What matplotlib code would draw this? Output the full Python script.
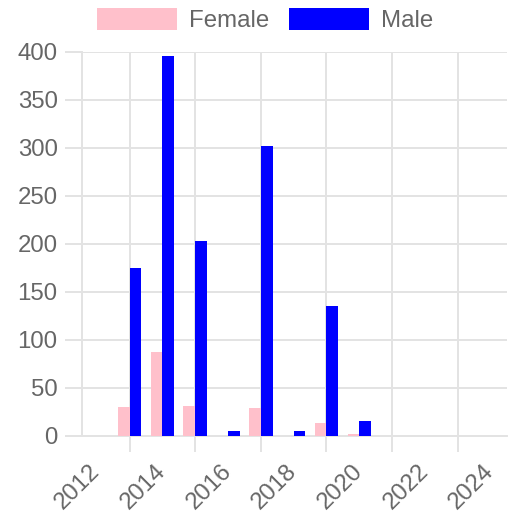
import numpy as np
import matplotlib.pyplot as plt
from matplotlib.ticker import MultipleLocator

plt.rcParams['font.family'] = ['Liberation Sans', 'DejaVu Sans']

# data
years = [2013, 2014, 2015, 2016, 2017, 2018, 2019, 2020]
female = [30, 88, 31, 0, 29, 0, 14, 2]
male = [175, 396, 203, 5, 302, 5, 135, 16]
tick_years = [2012, 2014, 2016, 2018, 2020, 2022, 2024]

grid_col = '#e3e3e3'
text_col = '#666666'
fs = 17.3

fig = plt.figure(figsize=(5.15, 5.19), dpi=100)
ax = fig.add_axes([82 / 515, 1 - 436 / 519, (507 - 82) / 515, (436 - 52) / 519])

x = np.array(years)
w = 0.36
bf = ax.bar(x - w / 2, female, width=w, color='#FFC0CB', label='Female', zorder=3)
bm = ax.bar(x + w / 2, male, width=w, color='#0000FF', label='Male', zorder=3)

ax.set_xlim(2011.55, 2024.5)
ax.set_ylim(0, 400)

ax.yaxis.set_major_locator(MultipleLocator(50))
ax.set_xticks(tick_years)
ax.set_xticklabels([str(t) for t in tick_years], rotation=45, ha='right', va='center',
                   rotation_mode='anchor')
ax.set_xticks(np.arange(2013, 2025, 2), minor=True)

ax.grid(axis='y', which='major', color=grid_col, linewidth=1.4, zorder=0)
ax.grid(axis='x', which='minor', color=grid_col, linewidth=1.4, zorder=0)

ax.tick_params(axis='y', which='major', length=12, width=1.4, color=grid_col,
               labelsize=fs, labelcolor=text_col, pad=5.5)
ax.tick_params(axis='x', which='major', length=0, labelsize=fs, labelcolor=text_col, pad=23)
ax.tick_params(axis='x', which='minor', length=11.5, width=1.4, color=grid_col)

for s in ['top', 'right']:
    ax.spines[s].set_visible(False)
for s in ['left', 'bottom']:
    ax.spines[s].set_color(grid_col)
    ax.spines[s].set_linewidth(1.4)

leg = fig.legend(handles=[bf, bm], loc='upper center', bbox_to_anchor=(265 / 515, 1 - 8 / 519),
                 ncol=2, frameon=False, fontsize=fs, handlelength=3.33, handleheight=1.0,
                 handletextpad=0.5, columnspacing=0.85, borderpad=0, borderaxespad=0)
for t in leg.get_texts():
    t.set_color(text_col)

fig.savefig('out.png', dpi=100)
